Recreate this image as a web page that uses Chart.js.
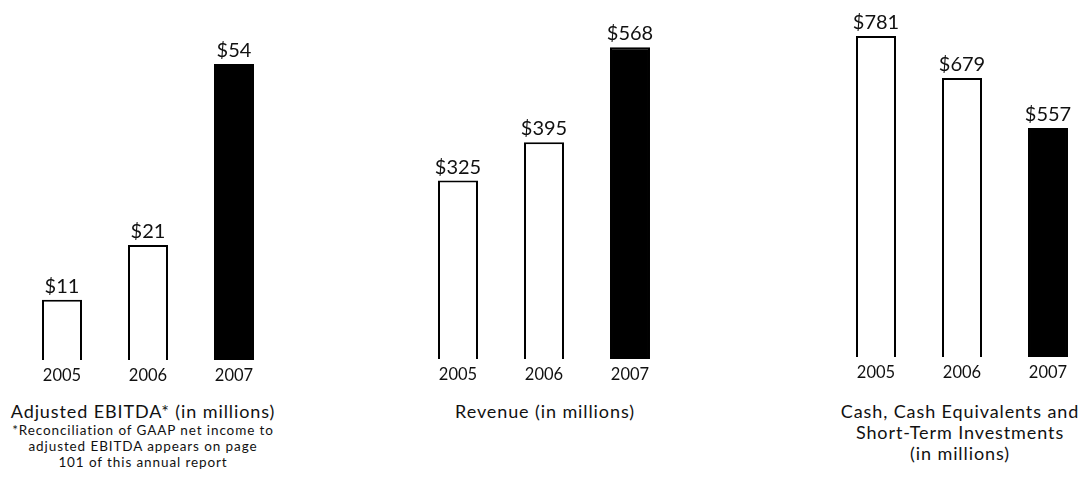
<!DOCTYPE html>
<html>
<head>
<meta charset="utf-8">
<script src="https://cdn.jsdelivr.net/npm/chart.js@4.4.1/dist/chart.umd.min.js"></script>
<style>
  html, body { margin: 0; padding: 0; background: #fff; width: 1091px; height: 483px; overflow: hidden; }
  canvas { position: absolute; top: 0; }
  .title { position: absolute; font-family: Lato, sans-serif; color: #111; text-align: center; white-space: nowrap; }
  .t { font-size: 18px; line-height: 21px; letter-spacing: 0.9px; }
  .note { font-size: 13.5px; line-height: 16px; letter-spacing: 0.9px; }
</style>
</head>
<body>
<canvas id="c1" width="258" height="400" style="left:19px"></canvas>
<canvas id="c2" width="258" height="400" style="left:415px"></canvas>
<canvas id="c3" width="258" height="400" style="left:833px"></canvas>

<div class="title" style="left:-2px; width:290px; top:401px;">
  <div class="t">Adjusted EBITDA* (in millions)</div>
  <div class="note">*Reconciliation of GAAP net income to<br>adjusted EBITDA appears on page<br>101 of this annual report</div>
</div>
<div class="title t" style="left:400px; width:290px; top:401px;">Revenue (in millions)</div>
<div class="title t" style="left:815px; width:290px; top:401px;">Cash, Cash Equivalents and<br>Short-Term Investments<br>(in millions)</div>

<script>
const years = ['2005', '2006', '2007'];
const ebitda = [11, 21, 54];
const revenue = [325, 395, 568];
const cash = [781, 679, 557];

const fills = ['#ffffff', '#ffffff', '#000000'];

const valueLabels = {
  id: 'valueLabels',
  afterDatasetsDraw(chart) {
    const ctx = chart.ctx;
    const meta = chart.getDatasetMeta(0);
    const data = chart.data.datasets[0].data;
    ctx.save();
    ctx.font = '20px Lato, sans-serif';
    ctx.fillStyle = '#111';
    ctx.textAlign = 'center';
    ctx.textBaseline = 'alphabetic';
    meta.data.forEach((bar, i) => {
      ctx.fillText('$' + data[i], bar.x, bar.y - 7);
    });
    ctx.restore();
  }
};

function makeChart(id, values, yMax, axisHeight) {
  return new Chart(document.getElementById(id), {
    type: 'bar',
    data: {
      labels: years,
      datasets: [{
        data: values,
        backgroundColor: fills,
        borderColor: '#000',
        borderWidth: 2,
        barPercentage: 0.465,
        categoryPercentage: 1
      }]
    },
    options: {
      responsive: false,
      animation: false,
      devicePixelRatio: 1,
      layout: { padding: 0 },
      plugins: { legend: { display: false }, tooltip: { enabled: false }, title: { display: false } },
      scales: {
        x: {
          grid: { display: false, drawTicks: false },
          border: { display: false },
          ticks: { color: '#111', font: { family: 'Lato', size: 16.5 }, padding: 6 },
          afterFit: (axis) => { axis.height = axisHeight; }
        },
        y: { display: false, min: 0, max: yMax }
      }
    },
    plugins: [valueLabels]
  });
}

makeChart('c1', ebitda, 65.7, 40);
makeChart('c2', revenue, 654, 41);
makeChart('c3', cash, 868.6, 43);
</script>
</body>
</html>
